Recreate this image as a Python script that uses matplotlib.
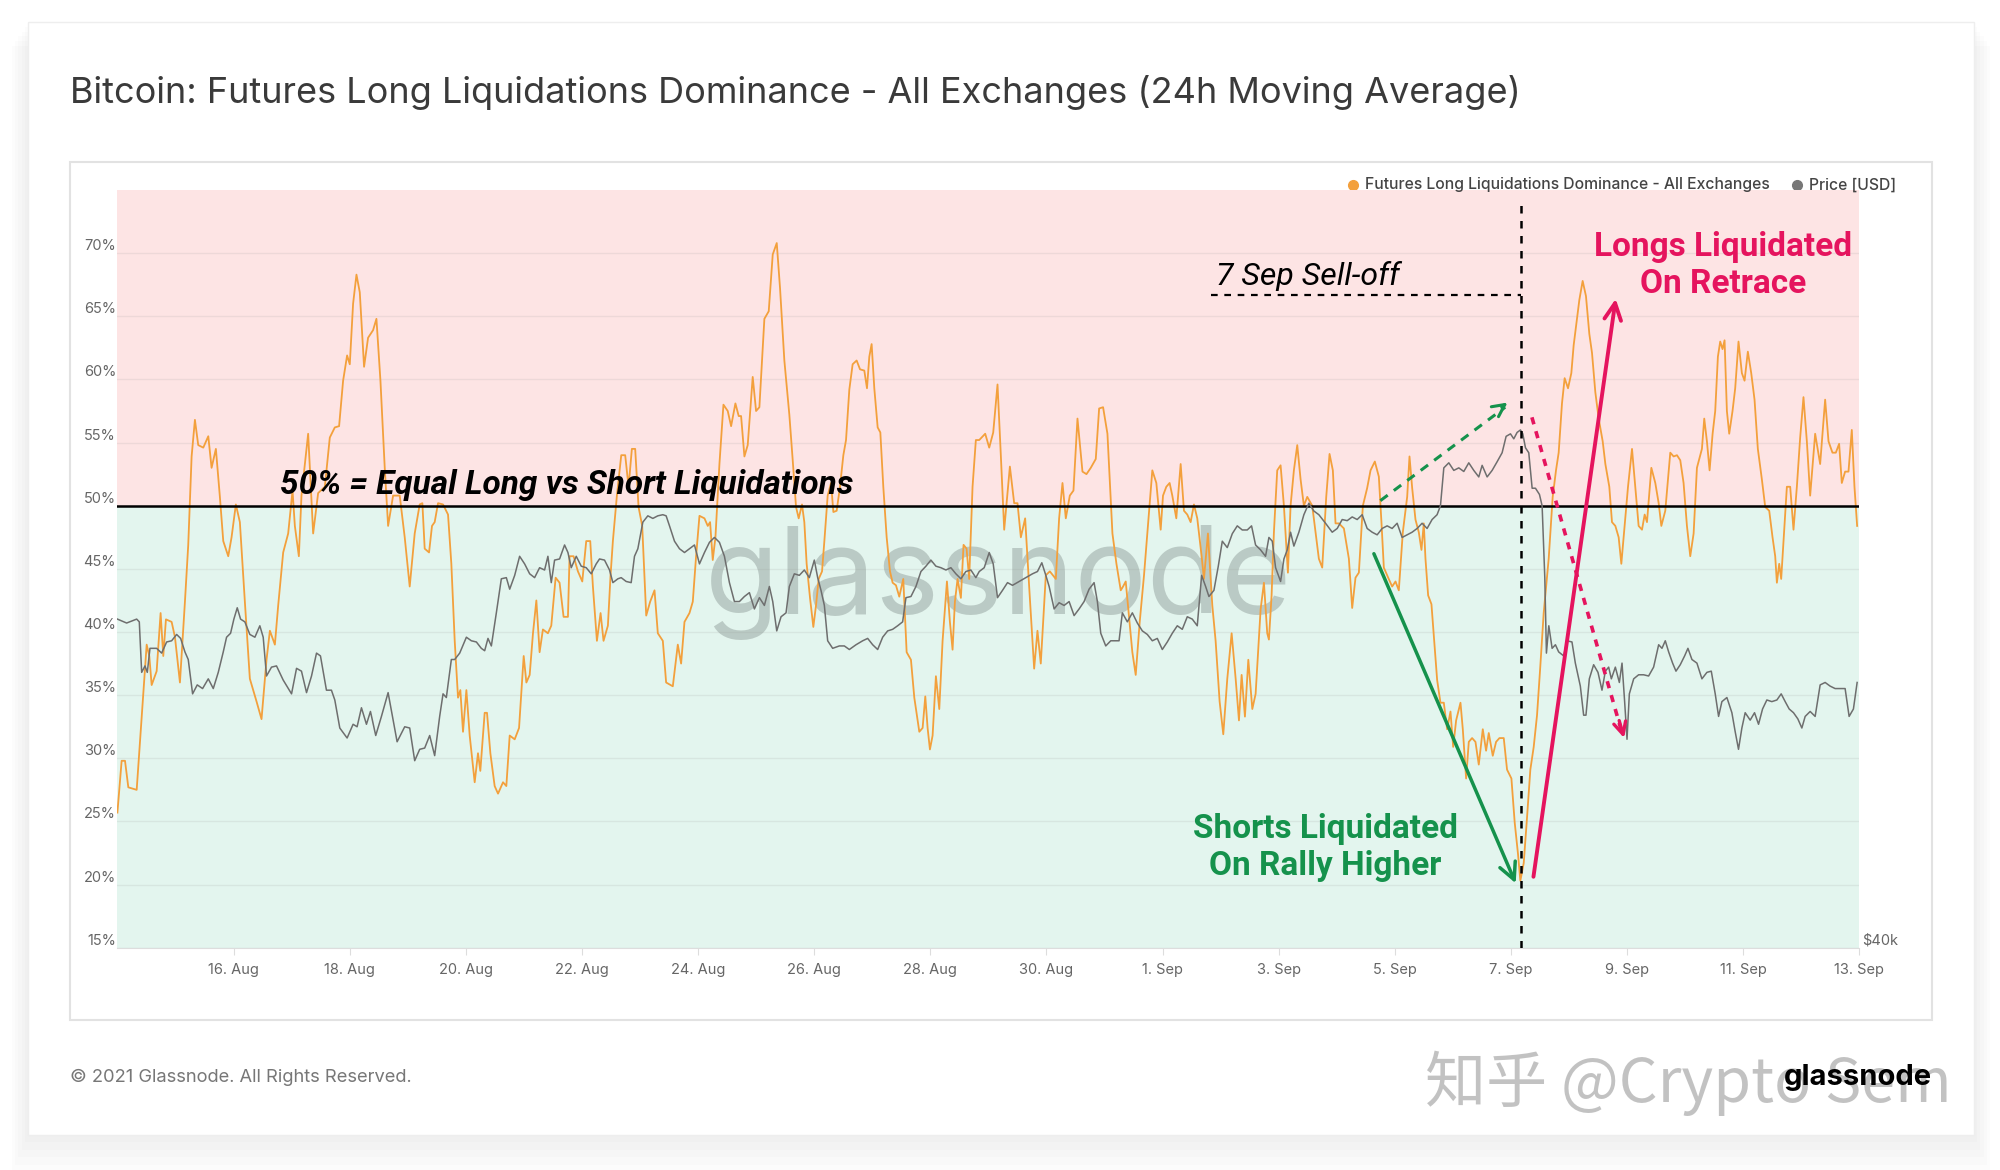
import numpy as np
import matplotlib
matplotlib.use("Agg")
import matplotlib.pyplot as plt
import matplotlib.dates as mdates
from matplotlib.patches import Rectangle
from matplotlib.lines import Line2D

plt.rcParams["font.family"] = ["Inter", "DejaVu Sans"]

START = "2021-08-14"

# days since 14 Aug 2021 00:00 UTC, and 24h MA long liquidation dominance (%)
liq_day = [
    0.0, 0.073, 0.131, 0.188, 0.332, 0.418, 0.504, 0.549, 0.59, 0.676, 0.744, 0.79, 0.836, 0.934, 0.991,
    1.077, 1.163, 1.22, 1.278, 1.335, 1.392, 1.479, 1.565, 1.622, 1.696, 1.765, 1.823, 1.909, 1.966,
    2.04, 2.109, 2.195, 2.281, 2.396, 2.482, 2.568, 2.626, 2.712, 2.769, 2.855, 2.941, 3.016, 3.056,
    3.125, 3.17, 3.285, 3.371, 3.457, 3.572, 3.658, 3.744, 3.818, 3.887, 3.956, 4.002, 4.059, 4.117,
    4.174, 4.248, 4.317, 4.403, 4.461, 4.53, 4.604, 4.662, 4.748, 4.862, 4.948, 5.034, 5.12, 5.206,
    5.252, 5.292, 5.367, 5.418, 5.464, 5.522, 5.608, 5.694, 5.751, 5.809, 5.866, 5.906, 5.952, 6.01,
    6.067, 6.153, 6.21, 6.25, 6.325, 6.365, 6.423, 6.497, 6.555, 6.641, 6.698, 6.756, 6.842, 6.917,
    6.997, 7.043, 7.1, 7.157, 7.215, 7.271, 7.328, 7.414, 7.472, 7.547, 7.615, 7.684, 7.759, 7.787,
    7.856, 7.931, 8.006, 8.074, 8.143, 8.189, 8.258, 8.321, 8.372, 8.447, 8.493, 8.533, 8.602, 8.677,
    8.745, 8.803, 8.86, 8.917, 8.975, 9.038, 9.107, 9.175, 9.25, 9.307, 9.393, 9.45, 9.565, 9.651,
    9.708, 9.766, 9.852, 9.909, 9.966, 10.024, 10.11, 10.167, 10.207, 10.253, 10.299, 10.368, 10.437,
    10.511, 10.569, 10.643, 10.7, 10.741, 10.798, 10.855, 10.941, 10.999, 11.056, 11.142, 11.217,
    11.286, 11.355, 11.412, 11.486, 11.572, 11.63, 11.687, 11.733, 11.79, 11.83, 11.87, 11.928, 11.985,
    12.031, 12.077, 12.135, 12.175, 12.232, 12.29, 12.33, 12.387, 12.444, 12.502, 12.548, 12.605,
    12.662, 12.731, 12.789, 12.863, 12.909, 12.949, 12.989, 13.035, 13.093, 13.139, 13.19, 13.248,
    13.305, 13.351, 13.408, 13.465, 13.534, 13.592, 13.666, 13.724, 13.81, 13.867, 13.913, 13.953,
    13.993, 14.039, 14.096, 14.154, 14.211, 14.286, 14.337, 14.383, 14.423, 14.469, 14.526, 14.572,
    14.624, 14.669, 14.727, 14.784, 14.842, 14.945, 15.014, 15.083, 15.157, 15.215, 15.272, 15.37,
    15.444, 15.501, 15.559, 15.633, 15.702, 15.788, 15.845, 15.902, 15.989, 16.058, 16.161, 16.218,
    16.276, 16.333, 16.402, 16.465, 16.534, 16.62, 16.689, 16.763, 16.849, 16.907, 16.975, 17.05,
    17.136, 17.205, 17.279, 17.319, 17.365, 17.422, 17.479, 17.537, 17.606, 17.68, 17.737, 17.823,
    17.892, 17.967, 18.007, 18.064, 18.121, 18.167, 18.236, 18.311, 18.368, 18.425, 18.483, 18.54,
    18.597, 18.672, 18.712, 18.781, 18.856, 18.913, 18.982, 19.045, 19.114, 19.189, 19.258, 19.315,
    19.361, 19.418, 19.476, 19.545, 19.602, 19.688, 19.745, 19.802, 19.831, 19.877, 19.917, 19.974,
    20.032, 20.089, 20.158, 20.204, 20.261, 20.319, 20.376, 20.433, 20.491, 20.577, 20.634, 20.691,
    20.749, 20.818, 20.875, 20.932, 20.978, 21.036, 21.122, 21.208, 21.265, 21.322, 21.38, 21.449,
    21.523, 21.581, 21.655, 21.724, 21.77, 21.81, 21.885, 21.953, 22.011, 22.068, 22.137, 22.212,
    22.252, 22.298, 22.355, 22.412, 22.458, 22.498, 22.527, 22.573, 22.63, 22.688, 22.728, 22.785,
    22.843, 22.9, 22.958, 23.004, 23.055, 23.13, 23.17, 23.227, 23.273, 23.33, 23.388, 23.445, 23.514,
    23.571, 23.617, 23.686, 23.743, 23.801, 23.875, 23.932, 24.007, 24.064, 24.121, 24.161, 24.219,
    24.276, 24.333, 24.391, 24.448, 24.505, 24.563, 24.649, 24.718, 24.775, 24.821, 24.878, 24.924,
    24.982, 25.039, 25.079, 25.137, 25.177, 25.234, 25.291, 25.349, 25.395, 25.452, 25.51, 25.579,
    25.625, 25.693, 25.739, 25.797, 25.854, 25.9, 25.957, 26.015, 26.084, 26.141, 26.198, 26.256,
    26.302, 26.342, 26.417, 26.485, 26.543, 26.589, 26.657, 26.743, 26.801, 26.858, 26.915, 26.972,
    27.03, 27.087, 27.145, 27.202, 27.288, 27.328, 27.374, 27.42, 27.472, 27.517, 27.563, 27.603,
    27.643, 27.678, 27.718, 27.758, 27.815, 27.861, 27.918, 27.976, 28.022, 28.079, 28.137, 28.194,
    28.251, 28.32, 28.378, 28.447, 28.504, 28.55, 28.579, 28.619, 28.653, 28.71, 28.751, 28.808,
    28.865, 28.923, 28.98, 29.037, 29.095, 29.152, 29.238, 29.324, 29.41, 29.468, 29.536, 29.594,
    29.651, 29.697, 29.754, 29.812, 29.869, 29.915, 29.961,
]
liq_pct = [
    25.7, 29.8, 29.8, 27.7, 27.5, 33.3, 39.0, 38.1, 35.8, 36.9, 41.5, 38.1, 41.0, 40.8, 39.6,
    36.0, 42.4, 46.9, 53.9, 56.8, 54.8, 54.6, 55.5, 53.0, 54.5, 50.7, 47.2, 46.0, 47.5,
    50.1, 48.7, 42.4, 36.3, 34.5, 33.1, 37.8, 40.1, 39.0, 42.1, 46.3, 47.8, 51.2, 48.4,
    46.0, 50.8, 55.7, 47.8, 51.0, 51.5, 55.4, 56.2, 56.3, 59.9, 61.9, 61.2, 66.0, 68.3,
    66.9, 61.0, 63.3, 63.9, 64.8, 59.9, 53.0, 48.4, 50.8, 50.8, 47.5, 43.6, 47.8, 50.1,
    50.2, 46.6, 46.3, 48.4, 48.7, 50.2, 50.1, 49.3, 45.4, 39.3, 34.8, 35.4, 32.1, 35.4,
    31.8, 28.1, 30.4, 29.0, 33.6, 33.6, 30.4, 27.8, 27.2, 28.1, 27.8, 31.8, 31.5, 32.4,
    38.1, 36.0, 36.6, 39.9, 42.5, 38.4, 40.2, 39.9, 40.5, 44.3, 43.9, 41.2, 41.2, 46.0,
    46.0, 44.8, 44.0, 47.2, 47.2, 43.6, 39.3, 41.5, 39.3, 40.5, 44.5, 47.2, 50.8, 54.0,
    54.0, 51.5, 54.5, 54.5, 49.9, 48.4, 41.3, 42.4, 43.3, 39.9, 39.3, 36.0, 35.7, 39.0,
    37.5, 40.8, 41.5, 42.4, 46.0, 49.2, 49.0, 48.4, 48.7, 45.7, 47.5, 53.3, 58.0,
    57.5, 56.3, 58.1, 57.1, 57.1, 53.9, 54.8, 60.2, 57.5, 57.8, 64.8, 65.4,
    69.9, 70.8, 67.2, 61.5, 57.2, 53.6, 49.9, 49.0, 50.1, 48.7, 45.4, 42.7, 40.4,
    42.1, 44.2, 44.8, 47.2, 50.8, 51.8, 49.5, 49.6, 51.5, 54.0, 55.2, 59.2,
    61.2, 61.5, 60.8, 60.7, 59.3, 61.8, 62.8, 59.3, 56.2, 55.8, 51.5, 47.5,
    44.8, 43.9, 43.7, 42.8, 44.2, 38.4, 37.8, 34.8, 32.1, 32.4, 34.9, 32.4,
    30.7, 31.8, 36.5, 33.9, 39.3, 44.0, 40.8, 38.6, 42.4, 44.2, 42.7, 46.9,
    46.6, 44.2, 51.5, 55.2, 55.2, 55.7, 54.6, 55.8, 59.6, 53.9, 48.1, 53.1,
    50.2, 50.2, 47.5, 49.0, 43.6, 37.1, 40.1, 37.5, 44.5, 44.8, 44.2, 49.0,
    51.8, 49.0, 50.8, 51.2, 56.9, 52.7, 52.5, 53.0, 53.7, 57.7, 57.8, 55.7,
    47.8, 45.4, 43.3, 43.6, 44.0, 41.2, 38.4, 36.6, 40.8, 44.5, 47.8, 52.8,
    51.8, 48.1, 50.8, 51.5, 51.8, 50.8, 49.0, 53.3, 49.6, 49.3, 48.7, 50.1,
    49.0, 46.0, 44.2, 47.8, 42.1, 39.3, 34.5, 31.9, 36.3, 39.9, 36.3, 33.0,
    36.6, 33.3, 37.8, 33.9, 35.1, 41.8, 43.9, 39.9, 39.4, 42.9, 47.9, 52.8,
    53.2, 50.0, 44.7, 50.0, 52.8, 54.8, 52.1, 50.0, 50.7, 50.0, 47.9, 45.8,
    45.1, 50.7, 54.1, 52.8, 48.6, 48.6, 48.2, 45.8, 41.9, 44.3, 44.7, 50.0,
    51.4, 52.8, 53.5, 52.3, 48.6, 45.1, 44.3, 43.6, 44.0, 43.3, 47.9, 50.7,
    53.9, 51.4, 48.9, 47.9, 46.5, 48.6, 45.8, 42.9, 42.2, 38.7, 36.2, 34.4,
    34.4, 32.3, 33.7, 30.9, 33.0, 34.4, 32.3, 28.4, 31.3, 31.6, 31.3, 29.5, 32.3,
    30.6, 32.0, 30.2, 31.3, 31.6, 31.6, 29.1, 28.4, 24.9, 22.4, 20.3, 21.7,
    25.3, 29.1, 30.9, 33.4, 37.3, 41.5, 45.8, 50.7, 52.8, 54.2, 58.1, 60.1,
    59.3, 60.5, 62.7, 64.8, 66.3, 67.8, 66.6, 63.6, 62.1, 59.0, 56.9, 55.1,
    53.3, 51.5, 48.7, 48.4, 47.5, 45.4, 48.4, 51.5, 54.5, 51.5, 48.4, 48.1,
    49.3, 48.7, 53.0, 51.8, 50.2, 48.4, 49.6, 54.2, 53.9, 54.0, 53.6, 51.8,
    48.4, 46.0, 47.8, 53.0, 54.5, 56.9, 55.1, 52.8, 55.7, 57.5, 61.8, 63.0,
    62.4, 63.1, 57.5, 55.7, 57.5, 59.3, 63.0, 60.5, 59.9, 62.2, 60.5, 58.4,
    54.5, 52.1, 49.9, 49.6, 47.5, 46.0, 43.9, 45.4, 44.2, 48.4, 51.5, 51.5,
    48.1, 51.5, 55.4, 58.6, 55.1, 50.8, 55.7, 53.3, 58.4, 55.1, 54.2, 54.2,
    54.9, 51.8, 52.7, 52.7, 56.0, 51.5, 48.4,
]

# days since 14 Aug 2021 00:00 UTC, BTC price (USD)
price_day = [
    0.0, 0.159, 0.332, 0.377, 0.418, 0.475, 0.515, 0.561, 0.676, 0.762, 0.848, 0.934, 1.02, 1.089,
    1.163, 1.22, 1.295, 1.375, 1.467, 1.565, 1.651, 1.737, 1.823, 1.88, 1.949, 2.006, 2.064, 2.121,
    2.195, 2.281, 2.368, 2.453, 2.511, 2.568, 2.654, 2.74, 2.855, 2.999, 3.085, 3.17, 3.257, 3.343,
    3.429, 3.497, 3.6, 3.686, 3.744, 3.83, 3.956, 4.059, 4.128, 4.203, 4.289, 4.358, 4.449, 4.547,
    4.662, 4.737, 4.817, 4.948, 5.034, 5.12, 5.206, 5.292, 5.378, 5.464, 5.55, 5.608, 5.665, 5.751,
    5.809, 5.895, 6.01, 6.096, 6.182, 6.267, 6.325, 6.382, 6.44, 6.526, 6.612, 6.698, 6.756, 6.842,
    6.927, 7.013, 7.1, 7.185, 7.271, 7.357, 7.414, 7.472, 7.529, 7.615, 7.701, 7.759, 7.816, 7.902,
    7.988, 8.074, 8.16, 8.246, 8.303, 8.389, 8.475, 8.533, 8.619, 8.676, 8.762, 8.848, 8.905, 8.963,
    9.049, 9.135, 9.221, 9.307, 9.393, 9.45, 9.508, 9.594, 9.68, 9.766, 9.852, 9.938, 10.024, 10.11,
    10.196, 10.282, 10.368, 10.454, 10.54, 10.626, 10.712, 10.798, 10.884, 10.97, 11.056, 11.142,
    11.228, 11.286, 11.355, 11.429, 11.515, 11.572, 11.658, 11.744, 11.83, 11.916, 12.002, 12.06,
    12.117, 12.175, 12.232, 12.318, 12.433, 12.519, 12.605, 12.72, 12.835, 12.921, 13.007, 13.093,
    13.179, 13.265, 13.351, 13.437, 13.523, 13.58, 13.666, 13.752, 13.838, 13.924, 14.01, 14.096,
    14.182, 14.268, 14.354, 14.44, 14.526, 14.612, 14.698, 14.784, 14.842, 14.928, 15.014, 15.083,
    15.157, 15.243, 15.329, 15.415, 15.53, 15.645, 15.759, 15.845, 15.92, 15.989, 16.046, 16.132,
    16.218, 16.304, 16.39, 16.476, 16.562, 16.648, 16.734, 16.82, 16.877, 16.935, 17.021, 17.107,
    17.193, 17.25, 17.307, 17.393, 17.479, 17.565, 17.651, 17.737, 17.823, 17.909, 17.995, 18.081,
    18.167, 18.253, 18.339, 18.425, 18.511, 18.597, 18.672, 18.741, 18.798, 18.884, 18.959, 19.028,
    19.114, 19.2, 19.286, 19.372, 19.458, 19.532, 19.601, 19.687, 19.773, 19.831, 19.889, 19.946,
    20.032, 20.089, 20.147, 20.204, 20.261, 20.347, 20.433, 20.519, 20.605, 20.691, 20.806, 20.921,
    21.007, 21.093, 21.179, 21.265, 21.351, 21.437, 21.523, 21.609, 21.695, 21.781, 21.867, 21.953,
    22.039, 22.125, 22.211, 22.297, 22.383, 22.469, 22.555, 22.641, 22.727, 22.785, 22.843, 22.929,
    23.015, 23.101, 23.187, 23.273, 23.359, 23.445, 23.503, 23.589, 23.675, 23.761, 23.847, 23.916,
    23.991, 24.048, 24.105, 24.163, 24.203, 24.249, 24.306, 24.364, 24.421, 24.49, 24.536, 24.582,
    24.61, 24.651, 24.708, 24.765, 24.821, 24.907, 24.964, 25.05, 25.108, 25.194, 25.251, 25.291,
    25.349, 25.423, 25.498, 25.567, 25.625, 25.682, 25.728, 25.797, 25.866, 25.912, 25.957, 25.998,
    26.038, 26.113, 26.198, 26.284, 26.37, 26.456, 26.543, 26.6, 26.657, 26.715, 26.783, 26.841,
    26.915, 26.99, 27.047, 27.116, 27.202, 27.288, 27.374, 27.449, 27.517, 27.575, 27.632, 27.718,
    27.804, 27.861, 27.918, 27.976, 28.033, 28.119, 28.194, 28.263, 28.332, 28.406, 28.492, 28.579,
    28.653, 28.722, 28.791, 28.865, 28.94, 29.009, 29.066, 29.152, 29.238, 29.324, 29.41, 29.496,
    29.582, 29.668, 29.754, 29.823, 29.897, 29.961,
]
price_usd = [
    47690, 47590, 47690, 47620, 46350, 46510, 46350, 46950, 46950, 46830, 47110, 47140, 47300, 47200,
    46860, 46670, 45820, 46040, 45950, 46190, 45950, 46350, 46860, 47230, 47330, 47690, 47980, 47690,
    47620, 47300, 47230, 47520, 47230, 46260, 46480, 46510, 46160, 45820, 46450, 46380, 45850, 46260,
    46830, 46760, 45910, 45910, 45670, 44990, 44750, 45080, 45020, 45480, 45080, 45390, 44810, 45270,
    45850, 45270, 44660, 45020, 44990, 44210, 44480, 44510, 44810, 44330, 45270, 45820, 45730, 46670,
    46670, 46830, 47230, 47140, 47110, 46950, 46890, 47200, 47010, 47850, 48730, 48760, 48460, 48820,
    49320, 49120, 48860, 48760, 49020, 48960, 49320, 48630, 49220, 49250, 49620, 49420, 49020, 49320,
    49060, 49020, 48860, 49120, 49250, 49220, 48960, 48630, 48730, 48760, 48660, 48630, 49320, 49520,
    50230, 50400, 50330, 50400, 50430, 50400, 50130, 49720, 49520, 49420, 49520, 49620, 49120, 49420,
    49690, 49820, 49690, 49320, 48630, 48140, 48140, 48270, 48370, 47950, 48240, 48040,
    48530, 48140, 47390, 47750, 47850, 48530, 48860, 48820, 48960, 48760, 49220, 48760,
    48430, 48040, 47140, 46950, 47010, 47010, 46920, 47040, 47140, 47200, 47040, 46920,
    47230, 47390, 47430, 47520, 47620, 48240, 48270, 48530, 48920, 49060, 49220, 49060,
    49020, 48960, 49020, 48860, 48730, 48920, 48960, 48760, 48920, 49020, 49420, 49120,
    48240, 48430, 48630, 48560, 48660, 48760, 48860, 48920, 49150, 48820, 48530, 47950,
    48110, 48040, 48140, 47780, 47950, 48140, 48460, 48630, 48140, 47330, 47010, 47140,
    47140, 47140, 47850, 47620, 47850, 47590, 47390, 47300, 47140, 47200, 46920, 47110,
    47330, 47520, 47430, 47750, 47690, 47520, 48820, 48530, 48270, 48430, 49060, 49720,
    49550, 49920, 50130, 50020, 50020, 50130, 49620, 49490, 49320, 49820, 49720, 49020,
    48660, 49250, 49490, 49960, 49590, 49960, 50430, 50740, 50530, 50430, 50200, 49960,
    50060, 50300, 50270, 50370, 50300, 50430, 50060, 49960, 49890, 50060, 50130, 50060,
    50200, 49820, 49890, 49960, 50060, 50200, 50060, 50300, 50430, 50670, 51710, 51850,
    51640, 51710, 51610, 51850, 51640, 51460, 51780, 51460, 51640, 51880, 52130, 52590,
    52660, 52520, 52700, 52770, 52660, 52270, 52130, 51150, 51150, 50980, 50670, 48760,
    46830, 47520, 46950, 47040, 46860, 46760, 47140, 47110, 46580, 46010, 45300, 45300,
    46190, 46540, 46350, 45910, 46380, 46480, 46190, 46480, 46100, 46580, 45630, 44720,
    45820, 46190, 46290, 46290, 46260, 46480, 47040, 46950, 47140, 46860, 46580, 46380,
    46540, 46760, 46950, 46670, 46580, 46190, 46350, 46380, 45820, 45270, 45630, 45730,
    45360, 44900, 44480, 44990, 45360, 45180, 45360, 45080, 45450, 45670, 45630, 45670,
    45820, 45630, 45450, 45360, 45210, 44990, 45270, 45390, 45270, 46040, 46100, 46010,
    45950, 45950, 45950, 45270, 45450, 46100,
]

pct_ticks = [15, 20, 25, 30, 35, 40, 45, 50, 55, 60, 65, 70]
date_tick_days = [2, 4, 6, 8, 10, 12, 14, 16, 18, 20, 22, 24, 26, 28, 30]
date_tick_labels = ["16. Aug", "18. Aug", "20. Aug", "22. Aug", "24. Aug", "26. Aug", "28. Aug",
                    "30. Aug", "1. Sep", "3. Sep", "5. Sep", "7. Sep", "9. Sep", "11. Sep", "13. Sep"]

ORANGE = "#f3a03c"
GREY = "#6e6e6e"
GREEN = "#15924c"
PINK = "#e5145e"
NARROW = ["Liberation Sans Narrow", "Roboto", "DejaVu Sans"]

t0 = mdates.date2num(np.datetime64(START))
liq_x = t0 + np.array(liq_day)
price_x = t0 + np.array(price_day)

fig = plt.figure(figsize=(20, 11.7), dpi=100)
fig.patch.set_facecolor("white")

# card with soft shadow
for i in range(5):
    g = 0.004 * (i + 1)
    fig.add_artist(Rectangle((0.014 - g * 0.4, 0.030 - g * 1.6), 0.973 + g * 0.8, 0.951 + g * 0.6,
                             transform=fig.transFigure, facecolor="black", alpha=0.012,
                             edgecolor="none", zorder=0))
fig.add_artist(Rectangle((0.014, 0.030), 0.973, 0.951, transform=fig.transFigure,
                         facecolor="white", edgecolor="#eeeeee", lw=1, zorder=0.5))
fig.add_artist(Rectangle((0.035, 0.1282), 0.931, 0.7333, transform=fig.transFigure,
                         facecolor="white", edgecolor="#e2e2e2", lw=1.5, zorder=0.6))

ax = fig.add_axes([0.0587, 0.19, 0.871, 0.6476])
ax.set_zorder(2)
ax.patch.set_alpha(0)

ax.axhspan(50, 75, color="#fde4e4", lw=0, zorder=0)
ax.axhspan(15, 50, color="#e3f5ee", lw=0, zorder=0)
for v in pct_ticks:
    ax.axhline(v, color="#888888", alpha=0.13, lw=1, zorder=0.5)

ax.text(0.506, 0.482, "glassnode", transform=ax.transAxes, ha="center", va="center",
        fontsize=87, color="#8a9793", alpha=0.45, zorder=0.8, family=["Inter", "DejaVu Sans"])

ax2 = ax.twinx()
ax2.set_yscale("log")
ax2.plot(price_x, price_usd, color=GREY, lw=1.1, zorder=3)
ax2.set_ylim(40000, 60000)
ax2.set_yticks([40000])
ax2.set_yticklabels(["$40k"])
ax2.yaxis.set_minor_locator(matplotlib.ticker.NullLocator())
ax2.tick_params(axis="y", length=0, pad=2, labelsize=10.5, labelcolor="#666666")
for lbl in ax2.get_yticklabels():
    lbl.set_va("bottom")
for s in ax2.spines.values():
    s.set_visible(False)

ax.plot(liq_x, liq_pct, color=ORANGE, lw=1.3, zorder=4)
ax.axhline(50, color="black", lw=1.8, zorder=5)

ax.set_xlim(t0, t0 + 30)
ax.set_ylim(15, 75)
ax.set_yticks(pct_ticks)
ax.set_yticklabels([f"{v}%" for v in pct_ticks])
for lbl in ax.get_yticklabels():
    lbl.set_va("bottom")
ax.set_xticks(t0 + np.array(date_tick_days))
ax.set_xticklabels(date_tick_labels)
ax.tick_params(axis="y", length=0, pad=1, labelsize=10.5, labelcolor="#666666")
ax.tick_params(axis="x", length=5, color="#dddddd", pad=6, labelsize=10.5, labelcolor="#666666")
for s in ["top", "right", "left"]:
    ax.spines[s].set_visible(False)
ax.spines["bottom"].set_color("#dddddd")

# overlay axes for the hand-drawn annotations
ax3 = fig.add_axes(ax.get_position(), sharex=ax, sharey=ax)
ax3.set_zorder(5)
ax3.patch.set_alpha(0)
ax3.axis("off")


def X(d):
    return t0 + d


ax3.text(X(2.8), 50.35, "50% = Equal Long vs Short Liquidations", family=NARROW,
         fontsize=24, fontweight="bold", style="italic", color="black", va="bottom", ha="left")

# 7 Sep sell-off marker
ax3.plot([X(24.17), X(24.17)], [15, 73.9], color="black", lw=1.8, ls=(0, (3, 3)))
ax3.plot([X(18.83), X(24.17)], [66.7, 66.7], color="black", lw=1.6, ls=(0, (3, 3)))
ax3.text(X(18.92), 67.0, "7 Sep Sell-off", family=NARROW, fontsize=23, style="italic",
         color="black", va="bottom", ha="left")

# green arrows
ax3.plot([X(21.75), X(23.90)], [50.4, 57.8], color=GREEN, lw=2.2, ls=(0, (3, 2.5)))
ax3.annotate("", xy=(X(23.98), 58.3), xytext=(X(23.80), 57.7),
             arrowprops=dict(arrowstyle="->", color=GREEN, lw=2.2, mutation_scale=22))
ax3.annotate("", xy=(X(24.10), 19.9), xytext=(X(21.62), 46.4),
             arrowprops=dict(arrowstyle="->", color=GREEN, lw=2.5, mutation_scale=30))
ax3.text(X(20.80), 22.9, "Shorts Liquidated\nOn Rally Higher", family=NARROW, fontsize=24,
         fontweight="bold", color=GREEN, ha="center", va="center", linespacing=1.2)

# pink arrows
ax3.annotate("", xy=(X(25.81), 66.6), xytext=(X(24.38), 20.4),
             arrowprops=dict(arrowstyle="->", color=PINK, lw=2.8, mutation_scale=30))
ax3.plot([X(24.36), X(25.90)], [57.0, 32.2], color=PINK, lw=2.6, ls=(0, (2, 2)))
ax3.annotate("", xy=(X(25.96), 31.4), xytext=(X(25.85), 33.2),
             arrowprops=dict(arrowstyle="->", color=PINK, lw=2.4, mutation_scale=22))
ax3.text(X(27.65), 69.0, "Longs Liquidated\nOn Retrace", family=NARROW, fontsize=24,
         fontweight="bold", color=PINK, ha="center", va="center", linespacing=1.2)

# title, legend, footer
fig.text(0.035, 0.921, "Bitcoin: Futures Long Liquidations Dominance - All Exchanges (24h Moving Average)",
         fontsize=26, color="#3a3a3a", ha="left", va="center")
fig.add_artist(Line2D([0.6765], [0.842], marker="o", markersize=7, color=ORANGE, lw=0,
                      transform=fig.transFigure))
fig.text(0.6825, 0.842, "Futures Long Liquidations Dominance - All Exchanges", fontsize=11.3,
         color="#444444", ha="left", va="center", fontweight="medium")
fig.add_artist(Line2D([0.8985], [0.842], marker="o", markersize=7, color="#777777", lw=0,
                      transform=fig.transFigure))
fig.text(0.9045, 0.842, "Price [USD]", fontsize=11.3, color="#444444", ha="left", va="center",
         fontweight="medium")

fig.text(0.035, 0.079, "© 2021 Glassnode. All Rights Reserved.", fontsize=13.2, color="#777777",
         ha="left", va="center")
fig.text(0.976, 0.074, "知乎 @Crypto Sem", fontsize=44, color="#bcbcbc", ha="right", va="center",
         family=["Noto Sans CJK SC", "DejaVu Sans"], alpha=0.9, zorder=10)
fig.text(0.966, 0.079, "glassnode", fontsize=21, color="black", fontweight="bold",
         ha="right", va="center", zorder=11)

fig.savefig("out.png", dpi=100, facecolor="white")
